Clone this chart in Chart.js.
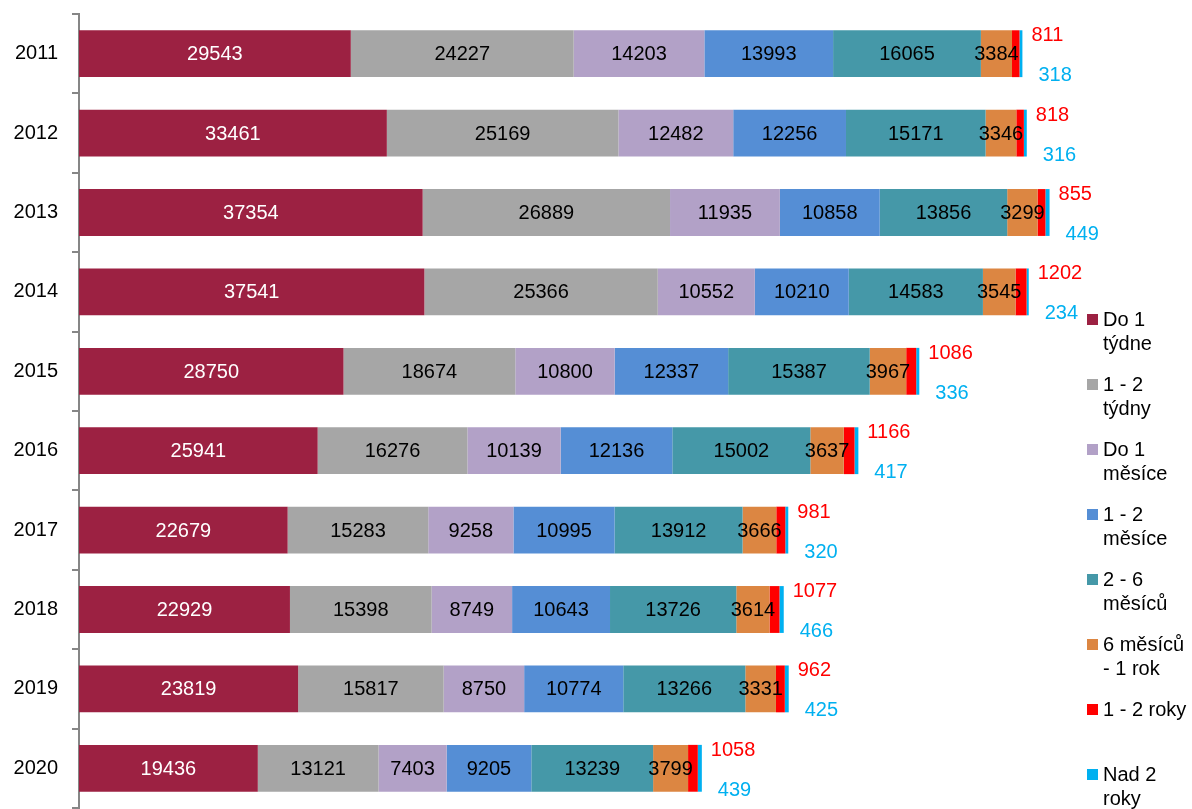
<!DOCTYPE html>
<html>
<head>
<meta charset="utf-8">
<script src="https://cdn.jsdelivr.net/npm/chart.js@4.4.1/dist/chart.umd.min.js"></script>
<style>
  html, body { margin: 0; padding: 0; background: #fff; }
  #wrap { position: relative; width: 1192px; height: 809px; overflow: hidden; }
  #legend { position: absolute; left: 1087px; top: 307px; font: 20px "Liberation Sans", Arial, sans-serif; color: #000; }
  .item { position: relative; height: 65px; padding-left: 16px; line-height: 24px; }
  .item i { position: absolute; left: 0; top: 7px; width: 11px; height: 11px; }
</style>
</head>
<body>
<div id="wrap">
  <canvas id="chart" width="1192" height="809"></canvas>
  <div id="legend"></div>
</div>
<script>
// years + one array per duration bucket
const years = ["2011", "2012", "2013", "2014", "2015", "2016", "2017", "2018", "2019", "2020"];
const do1Tydne = [29543, 33461, 37354, 37541, 28750, 25941, 22679, 22929, 23819, 19436];
const tydny1_2 = [24227, 25169, 26889, 25366, 18674, 16276, 15283, 15398, 15817, 13121];
const do1Mesice = [14203, 12482, 11935, 10552, 10800, 10139, 9258, 8749, 8750, 7403];
const mesice1_2 = [13993, 12256, 10858, 10210, 12337, 12136, 10995, 10643, 10774, 9205];
const mesicu2_6 = [16065, 15171, 13856, 14583, 15387, 15002, 13912, 13726, 13266, 13239];
const mesicuDoRoku = [3384, 3346, 3299, 3545, 3967, 3637, 3666, 3614, 3331, 3799];
const roky1_2 = [811, 818, 855, 1202, 1086, 1166, 981, 1077, 962, 1058];
const nad2Roky = [318, 316, 449, 234, 336, 417, 320, 466, 425, 439];

const seriesNames = ["Do 1 týdne", "1 - 2 týdny", "Do 1 měsíce", "1 - 2 měsíce", "2 - 6 měsíců", "6 měsíců - 1 rok", "1 - 2 roky", "Nad 2 roky"];
const legendLines = [["Do 1", "týdne"], ["1 - 2", "týdny"], ["Do 1", "měsíce"], ["1 - 2", "měsíce"], ["2 - 6", "měsíců"], ["6 měsíců", "- 1 rok"], ["1 - 2 roky"], ["Nad 2", "roky"]];
const colors = ["#9c2142", "#a6a6a6", "#b2a1c7", "#558ed5", "#4598a8", "#dc8642", "#ff0000", "#00b0f0"];
const seriesData = [do1Tydne, tydny1_2, do1Mesice, mesice1_2, mesicu2_6, mesicuDoRoku, roky1_2, nad2Roky];

const FONT = '"Liberation Sans", Arial, sans-serif';

// value labels: centred inside for the big segments, the two tiny ones pushed outside
const barLabels = {
  id: "barLabels",
  afterDatasetsDraw(chart) {
    const ctx = chart.ctx;
    ctx.save();
    ctx.font = "20px " + FONT;
    ctx.textBaseline = "middle";
    const last = chart.getDatasetMeta(seriesData.length - 1);
    seriesData.forEach((vals, di) => {
      const meta = chart.getDatasetMeta(di);
      meta.data.forEach((bar, i) => {
        const txt = String(vals[i]);
        if (di < 6) {
          ctx.textAlign = "center";
          ctx.fillStyle = di === 0 ? "#ffffff" : "#000000";
          ctx.fillText(txt, (bar.x + bar.base) / 2, bar.y + 1);
        } else {
          const end = last.data[i].x;
          ctx.textAlign = "left";
          ctx.fillStyle = colors[di];
          if (di === 6) ctx.fillText(txt, end + 9, bar.y - 18);
          else ctx.fillText(txt, end + 16, bar.y + 22);
        }
      });
    });
    ctx.restore();
  }
};

new Chart(document.getElementById("chart"), {
  type: "bar",
  data: {
    labels: years,
    datasets: seriesData.map((d, i) => ({
      label: seriesNames[i],
      data: d,
      backgroundColor: colors[i],
      borderWidth: 0,
      barPercentage: 0.59,
      categoryPercentage: 1
    }))
  },
  options: {
    indexAxis: "y",
    responsive: false,
    animation: false,
    layout: { padding: { top: 14, bottom: 1, left: 0, right: 101 } },
    plugins: { legend: { display: false }, tooltip: { enabled: false } },
    scales: {
      x: { stacked: true, display: false, min: 0, max: 110000 },
      y: {
        stacked: true,
        afterFit: (s) => { s.width = 79; s.paddingTop = 0; s.paddingBottom = 0; },
        border: { color: "#868686", width: 2 },
        grid: { offset: true, drawOnChartArea: false, tickLength: 7, color: "#868686", lineWidth: 2 },
        ticks: { color: "#000", padding: 14, font: { family: FONT, size: 20 } }
      }
    }
  },
  plugins: [barLabels]
});

document.getElementById("legend").innerHTML = legendLines.map((lines, i) =>
  `<div class="item"><i style="background:${colors[i]}"></i>${lines.join("<br>")}</div>`
).join("");
</script>
</body>
</html>
